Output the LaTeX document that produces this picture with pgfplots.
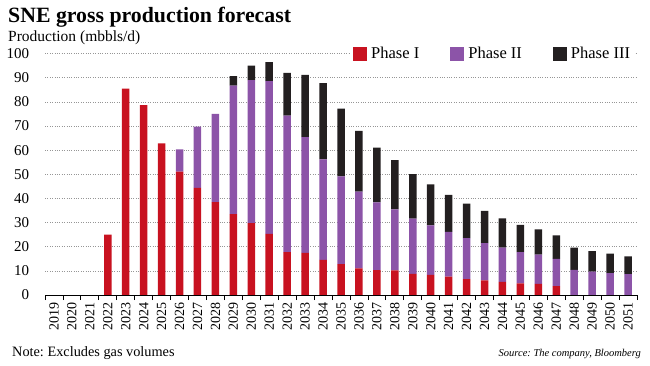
\documentclass[border=0pt]{standalone}
\usepackage{pgfplots}
\pgfplotsset{compat=1.18}
\usepackage{pgfplotstable}
\usepackage{fontspec}
\setmainfont{Liberation Serif}
\definecolor{pI}{RGB}{200,18,32}
\definecolor{pII}{RGB}{140,84,168}
\definecolor{pIII}{RGB}{35,31,32}
\definecolor{gridc}{RGB}{150,150,150}
\pgfplotstableread{
x p1 p2 p3
0 0 0 0
1 0 0 0
2 0 0 0
3 25 0 0
4 85.5 0 0
5 78.7 0 0
6 62.8 0 0
7 51.1 9.2 0
8 44.4 25.4 0
9 38.5 36.5 0
10 33.5 53.2 4.0
11 29.8 59.2 6.0
12 25.3 63.3 7.9
13 17.8 56.5 17.7
14 17.4 48.0 25.8
15 14.5 41.7 31.6
16 12.8 36.3 28.1
17 11.0 31.8 25.2
18 10.3 28.1 22.7
19 10.2 25.3 20.4
20 8.8 22.8 18.5
21 8.3 20.5 17.0
22 7.6 18.5 15.4
23 6.6 17.0 14.2
24 6.1 15.4 13.3
25 5.4 14.2 12.1
26 4.8 13.0 11.3
27 4.6 12.1 10.5
28 3.7 11.3 9.7
29 0 10.4 9.2
30 0 9.7 8.5
31 0 9.1 8.0
32 0 8.6 7.4
}\datatable
\begin{document}
\frenchspacing
\begin{tikzpicture}
\useasboundingbox (0,0) rectangle (650bp,366bp);
\node[anchor=base west, inner sep=0pt, font=\fontsize{21.8bp}{24bp}\selectfont\bfseries] at (8bp,343bp) {SNE gross production forecast};
\node[anchor=base west, inner sep=0pt, font=\fontsize{15.5bp}{17bp}\selectfont] at (8bp,324bp) {Production (mbbls/d)};
\node[anchor=base west, inner sep=0pt, font=\fontsize{14.3bp}{16bp}\selectfont] at (12bp,10bp) {Note: Excludes gas volumes};
\node[anchor=base east, inner sep=0pt, font=\fontsize{10.5bp}{12bp}\selectfont\itshape] at (641bp,10bp) {Source: The company, Bloomberg};
\begin{axis}[
  at={(45bp,71bp)}, anchor=south west,
  scale only axis, width=592bp, height=241.4bp,
  ybar stacked, bar width=7.5bp,
  xmin=-0.5, xmax=32.5, ymin=0, ymax=100,
  axis x line*=bottom, axis y line*=left,
  y axis line style={draw=none},
  x axis line style={draw=black, line width=1bp, -},
  ytick={0,10,...,100},
  ymajorgrids, grid style={dotted, gridc, line width=0.6bp},
  ytick style={draw=none},
  xtick={0,...,32},
  xticklabels={2019,2020,2021,2022,2023,2024,2025,2026,2027,2028,2029,2030,2031,2032,2033,2034,2035,2036,2037,2038,2039,2040,2041,2042,2043,2044,2045,2046,2047,2048,2049,2050,2051},
  major x tick style={draw=none},
  minor xtick={-0.5,0.5,...,32.5},
  minor x tick style={draw=black, line width=0.8bp},
  minor tick length=5bp,
  tick align=outside,
  /pgf/number format/assume math mode=true,
  yticklabel style={font=\fontsize{15bp}{16bp}\selectfont, anchor=east, xshift=-8bp},
  xticklabel style={font=\fontsize{14bp}{15bp}\selectfont, rotate=90, anchor=east},
  legend columns=3,
  legend style={at={(rel axis cs:0.997,1)}, anchor=east, draw=none, fill=white,
    font=\fontsize{16.5bp}{18bp}\selectfont, inner xsep=3bp, inner ysep=2bp,
    /tikz/every even column/.append style={column sep=29bp},
    /tikz/every odd column/.append style={column sep=2bp}},
  legend image code/.code={\fill[#1, draw=none] (0bp,-7bp) rectangle (14bp,7bp);},
  every axis plot/.append style={draw=none},
]
\addplot[fill=pI] table[x=x, y=p1] {\datatable};
\addplot[fill=pII] table[x=x, y=p2] {\datatable};
\addplot[fill=pIII] table[x=x, y=p3] {\datatable};
\legend{Phase I, Phase II, Phase III}
\end{axis}
\end{tikzpicture}
\end{document}
